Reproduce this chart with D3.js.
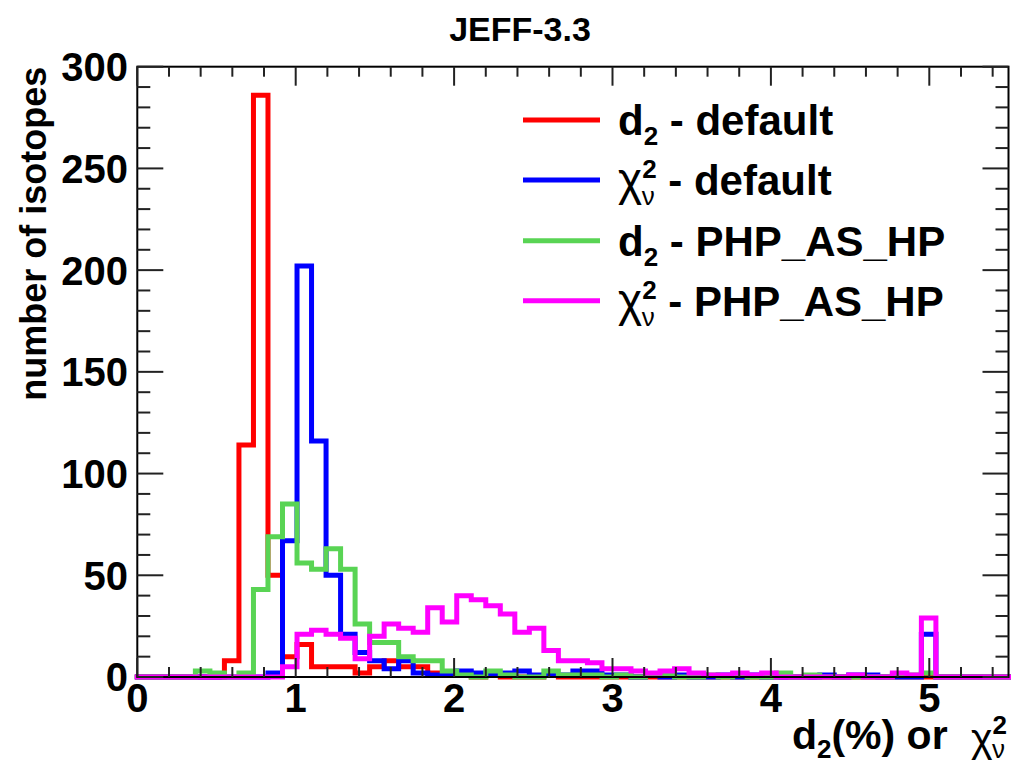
<!DOCTYPE html>
<html>
<head>
<meta charset="utf-8">
<script src="https://cdn.jsdelivr.net/npm/d3@7"></script>
<style>
  html, body { margin: 0; padding: 0; background: #fff; }
  svg { display: block; }
  text { font-family: "Liberation Sans", Arial, Helvetica, sans-serif; font-weight: bold; fill: #000; }
</style>
</head>
<body>
<svg id="chart" width="1012" height="767"></svg>
<script>
// ---- Data (histogram: 60 bins from 0 to 5.5) ----
const histRange = [0, 5.5];
const nBins = 60;
const seriesNames = ["d2 - default", "chi2 - default", "d2 - PHP_AS_HP", "chi2 - PHP_AS_HP"];
const seriesColors = ["#ff0000", "#0000ff", "#59d454", "#ff00ff"];

const d2Default = [
  0,0,0,0,0,0,8,114,286,50,
  10,16,5,5,5,2,5,8,5,5,
  2,1,1,0,1,0,0,0,1,0,
  0,0,0,0,0,0,0,0,0,0,
  0,0,0,0,0,0,0,0,0,0,
  0,0,0,0,0,0,0,0,0,0
];
const chi2Default = [
  0,0,0,0,0,0,0,0,0,2,
  67,202,116,50,21,12,8,4,8,2,
  1,1,3,2,1,2,3,1,1,1,
  3,3,1,1,0,1,0,1,0,0,
  1,0,1,0,0,0,0,1,0,1,
  1,0,0,0,21,0,0,0,0,0
];
const d2PHP = [
  0,0,0,0,3,2,0,2,43,69,
  85,56,53,63,53,26,17,17,10,8,
  8,3,1,0,3,1,0,0,3,1,
  1,1,0,1,0,1,1,0,0,1,
  0,1,0,0,2,0,1,0,0,0,
  0,0,1,1,2,0,0,0,0,0
];
const chi2PHP = [
  0,0,0,0,0,0,0,0,0,0,
  5,21,23,21,19,9,20,26,24,22,
  34,27,40,38,35,31,22,24,13,8,
  8,7,4,4,3,2,3,4,2,1,
  1,2,1,2,0,0,0,0,0,1,
  0,0,2,1,29,0,0,0,0,0
];
const xTickLabels = ["0", "1", "2", "3", "4", "5"];
const yTickLabels = ["0", "50", "100", "150", "200", "250", "300"];

// ---- Layout ----
const svg = d3.select("#chart");
const X0 = 137.3, X1 = 1008.5, Y0 = 677, Y1 = 66.7;
const x = d3.scaleLinear().domain(histRange).range([X0, X1]);
const y = d3.scaleLinear().domain([0, 300]).range([Y0, Y1]);
const binW = (histRange[1] - histRange[0]) / nBins;

// Title
svg.append("text").attr("x", 520).attr("y", 41).attr("text-anchor", "middle")
  .attr("font-size", 34).text("JEFF-3.3");

// Histograms
const allSeries = [d2Default, chi2Default, d2PHP, chi2PHP];
const line = d3.line().x(d => x(d[0])).y(d => y(d[1]));
allSeries.forEach((vals, s) => {
  const pts = [];
  vals.forEach((v, i) => {
    const lo = histRange[0] + i * binW, hi = lo + binW;
    pts.push([lo, v]); pts.push([hi, v]);
  });
  svg.append("path").attr("d", line(pts)).attr("fill", "none")
    .attr("stroke", seriesColors[s]).attr("stroke-width", 5)
    .attr("stroke-linejoin", "miter").attr("stroke-linecap", "square");
});

// Frame
svg.append("rect").attr("x", X0).attr("y", Y1).attr("width", X1 - X0).attr("height", Y0 - Y1)
  .attr("fill", "none").attr("stroke", "#000").attr("stroke-width", 2);

// Ticks
const tg = svg.append("g").attr("stroke", "#222").attr("stroke-width", 2);
const xMinor = d3.range(0, 5.5001, 0.2);
xMinor.forEach(v => {
  const major = Math.abs(v - Math.round(v)) < 1e-6;
  const L = major ? 19 : 10;
  tg.append("line").attr("x1", x(v)).attr("x2", x(v)).attr("y1", Y0).attr("y2", Y0 - L);
  tg.append("line").attr("x1", x(v)).attr("x2", x(v)).attr("y1", Y1).attr("y2", Y1 + L);
});
d3.range(0, 301, 10).forEach(v => {
  const major = v % 50 === 0;
  const L = major ? 26 : 13;
  tg.append("line").attr("x1", X0).attr("x2", X0 + L).attr("y1", y(v)).attr("y2", y(v));
  tg.append("line").attr("x1", X1).attr("x2", X1 - L).attr("y1", y(v)).attr("y2", y(v));
});

// Tick labels
xTickLabels.forEach(t => {
  svg.append("text").attr("x", x(+t)).attr("y", 712).attr("text-anchor", "middle")
    .attr("font-size", 40).text(t);
});
yTickLabels.forEach(t => {
  svg.append("text").attr("x", 128).attr("y", y(+t)).attr("dy", "0.36em").attr("text-anchor", "end")
    .attr("font-size", 40).text(t);
});

// Axis titles
svg.append("text").attr("transform", `translate(46,${Y1}) rotate(-90)`).attr("text-anchor", "end")
  .attr("font-size", 36).text("number of isotopes");

const xt = svg.append("text").attr("x", 1007).attr("y", 749).attr("text-anchor", "end").attr("font-size", 41);
xt.append("tspan").text("d");
xt.append("tspan").attr("font-size", 26).attr("dy", 9).text("2");
xt.append("tspan").attr("dy", -9).text("(%) or ");
xt.append("tspan").attr("font-weight", "normal").attr("dx", 12).attr("dy", 3).text("χ");
xt.append("tspan").attr("font-size", 26).attr("dy", -18).text("2");
xt.append("tspan").attr("font-size", 26).attr("font-weight", "normal").attr("dx", -15).attr("dy", 24).text("ν");

// Legend
const legY = [120, 180, 240.7, 300.7];
seriesNames.forEach((name, i) => {
  svg.append("line").attr("x1", 523).attr("x2", 600).attr("y1", legY[i]).attr("y2", legY[i])
    .attr("stroke", seriesColors[i]).attr("stroke-width", 5);
  const t = svg.append("text").attr("x", 618).attr("y", legY[i] + 15).attr("font-size", 42);
  const parts = name.split(" - ");
  if (parts[0] === "d2") {
    t.append("tspan").text("d");
    t.append("tspan").attr("font-size", 26).attr("dy", 10).text("2");
    t.append("tspan").attr("dy", -10).text(" - " + parts[1]);
  } else {
    t.append("tspan").attr("font-weight", "normal").attr("font-size", 46).text("χ");
    t.append("tspan").attr("font-size", 26).attr("dy", -17).text("2");
    t.append("tspan").attr("font-size", 26).attr("font-weight", "normal").attr("dx", -15).attr("dy", 27).text("ν");
    t.append("tspan").attr("dy", -10).attr("dx", 2).text(" - " + parts[1]);
  }
});
</script>
</body>
</html>
